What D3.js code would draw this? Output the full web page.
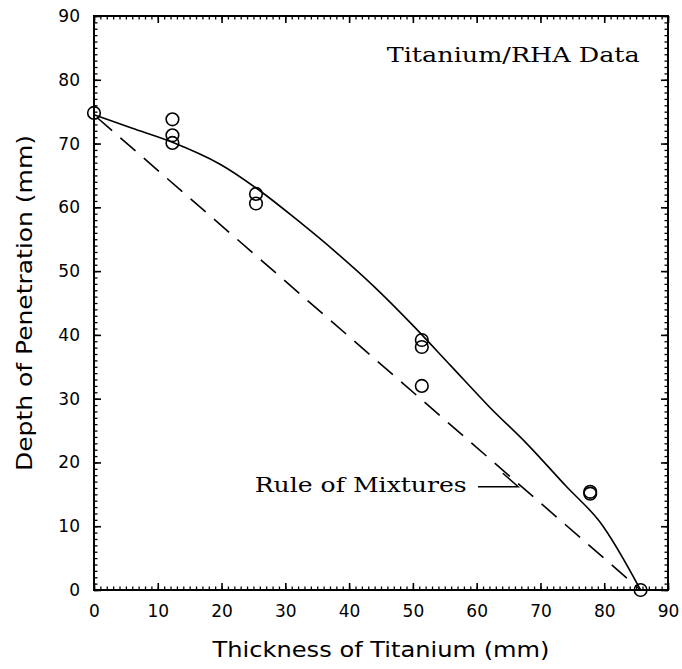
<!DOCTYPE html>
<html lang="en">
  <head>
    <meta charset="utf-8">
    <script src="https://d3js.org/d3.v7.min.js"></script>
    <title>Titanium/RHA Data</title>
    <style>
      body { margin:0; background:#fff; }
      .axis text { font-family:"DejaVu Sans", sans-serif; font-size:17px; fill:#000; }
      .axis path.domain { display:none; }
      .axis line { stroke:#000; stroke-width:1.6; }
      .minor line { stroke-width:1.3; }
    </style>
  </head>
  <body>
    <script>

      // data

      var ptThickness = [0, 12.3, 12.3, 12.3, 25.4, 25.4, 51.4, 51.4, 51.4, 77.8, 77.8, 85.7];
      var ptDepth     = [74.8, 73.8, 71.3, 70.1, 62.1, 60.6, 39.2, 38.1, 32.0, 15.4, 15.1, 0];

      // fitted curve (solid)
      var fitThickness = [0, 6, 12.3, 19.7, 26, 32, 38, 44, 50, 56, 62, 68, 74, 79.3, 85.7];
      var fitDepth     = [74.5, 72.4, 70.2, 66.8, 62.6, 57.9, 52.9, 47.5, 41.5, 35.1, 28.7, 22.8, 16.3, 10.7, 0];

      // rule of mixtures (dashed)
      var romThickness = [0, 85.7];
      var romDepth     = [74.5, 0];

      var xTicks = [0, 10, 20, 30, 40, 50, 60, 70, 80, 90];
      var yTicks = [0, 10, 20, 30, 40, 50, 60, 70, 80, 90];

      // SVG

      var width = 682, height = 669;
      var plotL = 94, plotR = 668, plotT = 16, plotB = 590;

      var svg = d3.select("body").append("svg")
        .attr("width", width).attr("height", height);

      var x = d3.scaleLinear().domain([0, 90]).range([plotL, plotR]);
      var y = d3.scaleLinear().domain([0, 90]).range([plotB, plotT]);

      // minor ticks on all four sides
      var minor = d3.range(0, 91, 1);
      svg.append("g").attr("class", "axis minor").attr("transform", "translate(0," + plotB + ")")
        .call(d3.axisBottom(x).tickValues(minor).tickFormat("").tickSize(-3.5));
      svg.append("g").attr("class", "axis minor").attr("transform", "translate(0," + plotT + ")")
        .call(d3.axisTop(x).tickValues(minor).tickFormat("").tickSize(-3.5));
      svg.append("g").attr("class", "axis minor").attr("transform", "translate(" + plotL + ",0)")
        .call(d3.axisLeft(y).tickValues(minor).tickFormat("").tickSize(-3.5));
      svg.append("g").attr("class", "axis minor").attr("transform", "translate(" + plotR + ",0)")
        .call(d3.axisRight(y).tickValues(minor).tickFormat("").tickSize(-3.5));

      // major ticks
      svg.append("g").attr("class", "axis").attr("transform", "translate(0," + plotB + ")")
        .call(d3.axisBottom(x).tickValues(xTicks).tickSize(-7).tickPadding(15));
      svg.append("g").attr("class", "axis").attr("transform", "translate(0," + plotT + ")")
        .call(d3.axisTop(x).tickValues(xTicks).tickFormat("").tickSize(-7));
      svg.append("g").attr("class", "axis").attr("transform", "translate(" + plotL + ",0)")
        .call(d3.axisLeft(y).tickValues(yTicks).tickSize(-7).tickPadding(14));
      svg.append("g").attr("class", "axis").attr("transform", "translate(" + plotR + ",0)")
        .call(d3.axisRight(y).tickValues(yTicks).tickFormat("").tickSize(-7));

      // frame
      svg.append("rect")
        .attr("x", plotL).attr("y", plotT)
        .attr("width", plotR - plotL).attr("height", plotB - plotT)
        .style("fill", "none").style("stroke", "#000").style("stroke-width", 2);

      // lines
      var line = d3.line()
        .x(function(d){ return x(d[0]); })
        .y(function(d){ return y(d[1]); });

      svg.append("path")
        .datum(d3.zip(fitThickness, fitDepth))
        .attr("d", line.curve(d3.curveCatmullRom.alpha(0.5)))
        .style("fill", "none").style("stroke", "#000").style("stroke-width", 1.6);

      svg.append("path")
        .datum(d3.zip(romThickness, romDepth))
        .attr("d", line.curve(d3.curveLinear))
        .style("fill", "none").style("stroke", "#000").style("stroke-width", 1.6)
        .style("stroke-dasharray", "20,11").style("stroke-dashoffset", -4);

      // points
      svg.selectAll("circle.pt").data(d3.zip(ptThickness, ptDepth))
        .enter().append("circle").attr("class", "pt")
        .attr("cx", function(d){ return x(d[0]); })
        .attr("cy", function(d){ return y(d[1]); })
        .attr("r", 6.3)
        .style("fill", "none").style("stroke", "#000").style("stroke-width", 1.6);

      // annotations
      svg.append("text")
        .attr("x", x(45.9)).attr("y", y(82.8))
        .attr("textLength", 253).attr("lengthAdjust", "spacingAndGlyphs")
        .style("font-family", "'DejaVu Serif', serif").style("font-size", "20px")
        .text("Titanium/RHA Data");

      svg.append("text")
        .attr("x", x(25.2)).attr("y", y(15.4))
        .attr("textLength", 212).attr("lengthAdjust", "spacingAndGlyphs")
        .style("font-family", "'DejaVu Serif', serif").style("font-size", "20px")
        .text("Rule of Mixtures");

      svg.append("path")
        .datum([[64.1, 18.3], [66.5, 16.2], [60.2, 16.2]])
        .attr("d", line.curve(d3.curveLinear))
        .style("fill", "none").style("stroke", "#000").style("stroke-width", 1.5);

      // axis titles
      svg.append("text")
        .attr("x", (plotL + plotR) / 2).attr("y", 657)
        .attr("text-anchor", "middle")
        .attr("textLength", 337).attr("lengthAdjust", "spacingAndGlyphs")
        .style("font-family", "'DejaVu Sans', sans-serif").style("font-size", "21px")
        .text("Thickness of Titanium (mm)");

      svg.append("text")
        .attr("transform", "translate(32," + ((plotT + plotB) / 2) + ") rotate(-90)")
        .attr("text-anchor", "middle")
        .attr("textLength", 336).attr("lengthAdjust", "spacingAndGlyphs")
        .style("font-family", "'DejaVu Sans', sans-serif").style("font-size", "21px")
        .text("Depth of Penetration (mm)");

    </script>
  </body>
</html>
